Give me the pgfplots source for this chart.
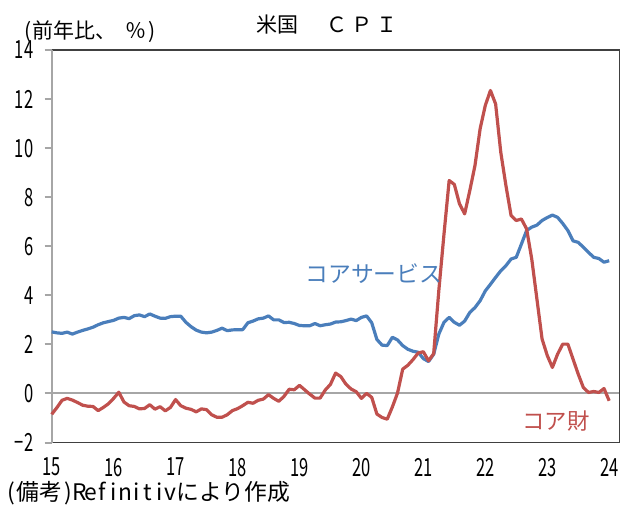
\documentclass[border=0pt]{standalone}
\usepackage{fontspec}
\setmainfont{Noto Sans CJK JP}
\newfontfamily\narrow[FakeStretch=0.66]{Noto Sans CJK JP}
\usepackage{pgfplots}
\usepackage{pgfplotstable}
\pgfplotsset{compat=1.18}
\definecolor{cblue}{HTML}{4A7EBB}
\definecolor{cred}{HTML}{C0504D}
\definecolor{frame}{HTML}{404040}
\definecolor{lgray}{HTML}{A6A6A6}
\newcommand\hw[1]{\makebox[0.5em]{#1}}
\pgfplotstableread{
m s g
0 2.51 -0.85
1 2.47 -0.58
2 2.45 -0.28
3 2.50 -0.20
4 2.42 -0.27
5 2.50 -0.37
6 2.57 -0.48
7 2.63 -0.52
8 2.70 -0.53
9 2.80 -0.70
10 2.88 -0.57
11 2.93 -0.42
12 2.98 -0.20
13 3.07 0.05
14 3.10 -0.35
15 3.05 -0.50
16 3.17 -0.53
17 3.20 -0.63
18 3.13 -0.61
19 3.24 -0.46
20 3.15 -0.64
21 3.07 -0.54
22 3.06 -0.71
23 3.13 -0.57
24 3.15 -0.25
25 3.15 -0.50
26 2.90 -0.60
27 2.72 -0.65
28 2.58 -0.75
29 2.50 -0.63
30 2.47 -0.66
31 2.50 -0.87
32 2.57 -0.97
33 2.66 -0.97
34 2.56 -0.87
35 2.59 -0.70
36 2.60 -0.62
37 2.60 -0.50
38 2.88 -0.36
39 2.95 -0.40
40 3.04 -0.28
41 3.07 -0.23
42 3.16 -0.05
43 3.00 -0.20
44 3.00 -0.32
45 2.89 -0.12
46 2.90 0.17
47 2.85 0.15
48 2.77 0.33
49 2.76 0.15
50 2.76 -0.03
51 2.85 -0.19
52 2.76 -0.19
53 2.80 0.14
54 2.83 0.37
55 2.91 0.83
56 2.92 0.69
57 2.97 0.38
58 3.03 0.18
59 2.97 0.07
60 3.10 -0.20
61 3.16 0.00
62 2.88 -0.16
63 2.20 -0.84
64 1.97 -0.98
65 1.95 -1.05
66 2.29 -0.55
67 2.18 0.02
68 1.95 0.99
69 1.80 1.15
70 1.72 1.38
71 1.68 1.65
72 1.42 1.70
73 1.30 1.33
74 1.60 1.62
75 2.42 4.20
76 2.90 6.50
77 3.10 8.68
78 2.90 8.52
79 2.78 7.73
80 2.95 7.32
81 3.30 8.27
82 3.50 9.29
83 3.78 10.79
84 4.18 11.74
85 4.45 12.35
86 4.73 11.80
87 5.00 9.83
88 5.21 8.47
89 5.48 7.25
90 5.55 7.05
91 6.09 7.11
92 6.64 6.71
93 6.78 5.48
94 6.86 3.85
95 7.05 2.22
96 7.17 1.55
97 7.27 1.06
98 7.18 1.60
99 6.93 2.01
100 6.64 2.01
101 6.22 1.40
102 6.16 0.79
103 5.96 0.24
104 5.75 0.04
105 5.55 0.08
106 5.50 0.04
107 5.35 0.20
108 5.41 -0.30
}\cpidata
\begin{document}
\begin{tikzpicture}[x=1pt,y=1pt]
\begin{axis}[
  at={(25.85pt,34.25pt)}, anchor=south west,
  scale only axis, width=283.9pt, height=196.25pt,
  xmin=0, xmax=110, ymin=-2, ymax=14,
  axis line style={draw=none},
  ytick={-2,0,2,4,6,8,10,12,14},
  yticklabels={−2,0,2,4,6,8,10,12,14},
  xtick={0,12,24,36,48,60,72,84,96,108},
  xticklabels={15,16,17,18,19,20,21,22,23,24},
  ytick pos=left, tick align=outside,
  major tick length=3.5pt,
  ytick style={lgray, line width=1pt},
  xtick style={draw=none},
  ticklabel style={font=\narrow\fontsize{12.5}{13}\selectfont, text=black},
  yticklabel style={anchor=east, inner sep=0pt, xshift=-5.5pt},
  xticklabel style={anchor=north, inner sep=0pt, yshift=-4pt},
  clip=false,
]
\draw[lgray, line width=1pt] (axis cs:0,0) -- (axis cs:110,0);
\draw[frame, line width=0.9pt] (rel axis cs:0,0) -- (rel axis cs:1,0) -- (rel axis cs:1,1) -- (rel axis cs:0,1);
\draw[lgray, line width=1pt] (rel axis cs:0,0) -- (rel axis cs:0,1);
\addplot[cblue, line width=1.6pt, line join=round] table[x=m, y=s] {\cpidata};
\addplot[cred, line width=1.6pt, line join=round] table[x=m, y=g] {\cpidata};
\end{axis}
\node[anchor=west, inner sep=0pt, font=\fontsize{10.5}{12}\selectfont] at (128,243) {米国\hspace{14pt}Ｃ\hspace{2pt}Ｐ\hspace{2pt}Ｉ};
\node[anchor=west, inner sep=0pt, font=\fontsize{10.5}{12}\selectfont] at (11,239.5) {\hw{(}前年比、\hspace{0.4em}％\hw{)}};
\node[anchor=west, inner sep=0pt, font=\fontsize{11.4}{13}\selectfont] at (2.5,9) {\hw{(}備考\hw{)}\hw{R}\hw{e}\hw{f}\hw{i}\hw{n}\hw{i}\hw{t}\hw{i}\hw{v}により作成};
\node[anchor=west, inner sep=0pt, text=cblue, font=\fontsize{11.4}{12}\selectfont] at (152.5,118.75) {コアサービス};
\node[anchor=center, inner sep=0pt, text=cred, font=\fontsize{11.2}{12}\selectfont] at (278,44.75) {コア財};
\pgfresetboundingbox
\path (0,0) rectangle (316,255.5);
\end{tikzpicture}
\end{document}
